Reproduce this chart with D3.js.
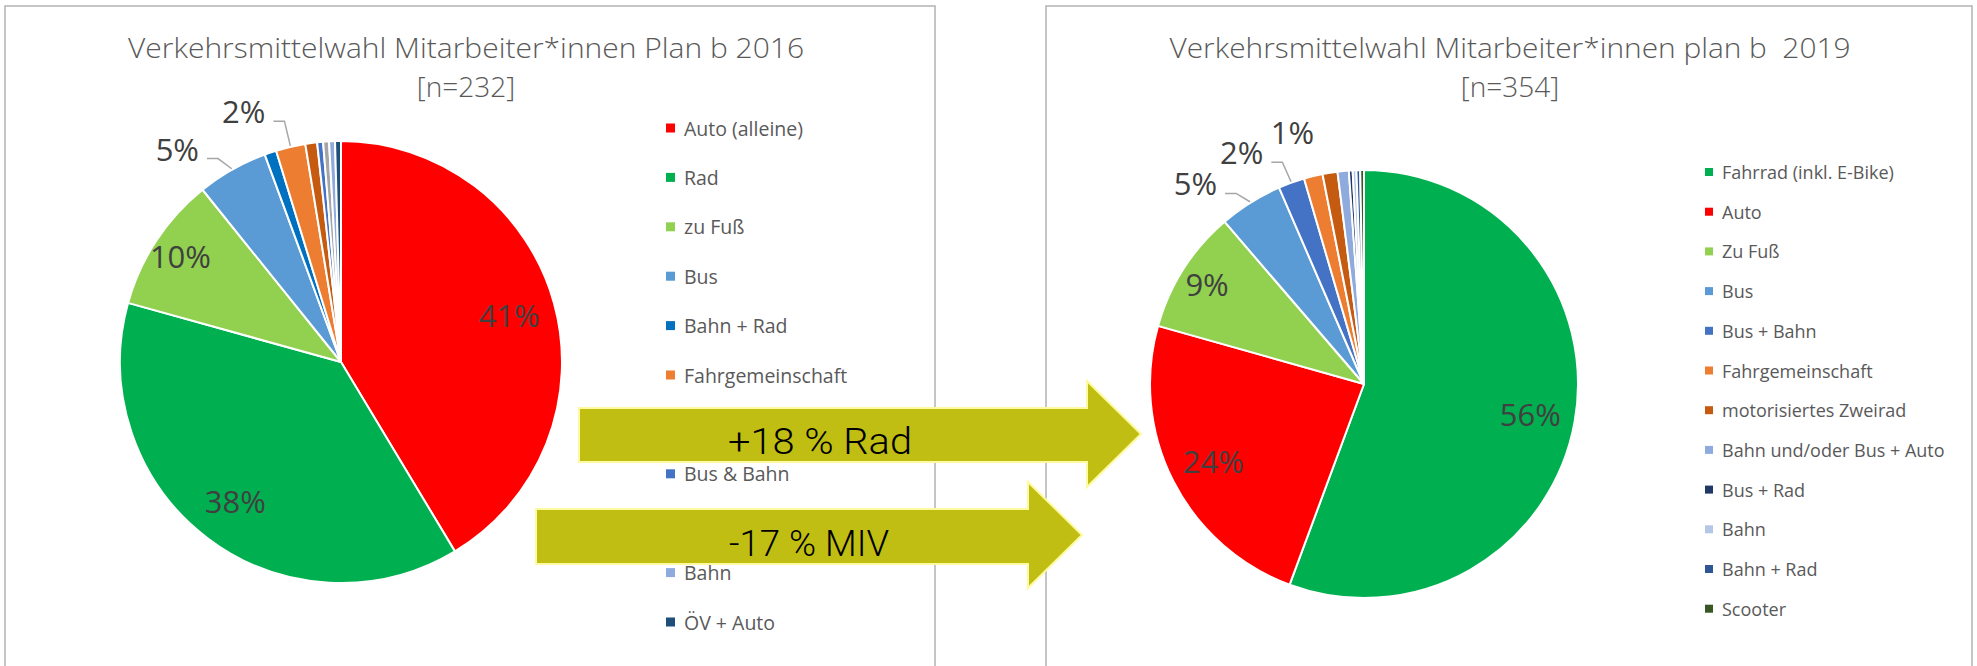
<!DOCTYPE html>
<html>
<head>
<meta charset="utf-8">
<script src="https://cdn.jsdelivr.net/npm/d3@7"></script>
<style>
body{margin:0;background:#fff;overflow:hidden}
text{font-family:"Open Sans",sans-serif}
</style>
</head>
<body>
<div id="chart"></div>
<script>
// 2016 survey
const leftCategories = ['Auto (alleine)','Rad','zu Fuß','Bus','Bahn + Rad','Fahrgemeinschaft','motorisiertes Zweirad','Bus & Bahn','Bus + Rad','Bahn','ÖV + Auto'];
const leftValues = [96,88,23,12,2,5,2,1,1,1,1];
const leftColors = ['#ff0000','#00b050','#92d050','#5b9bd5','#0070c0','#ed7d31','#c55a11','#4472c4','#a5a5a5','#8faadc','#1f4e79'];

// 2019 survey
const rightCategories = ['Fahrrad (inkl. E-Bike)','Auto','Zu Fuß','Bus','Bus + Bahn','Fahrgemeinschaft','motorisiertes Zweirad','Bahn und/oder Bus + Auto','Bus + Rad','Bahn','Bahn + Rad','Scooter'];
const rightValues = [197,84,33,17,7,5,4,3,1,1,1,1];
const rightColors = ['#00b050','#ff0000','#92d050','#5b9bd5','#4472c4','#ed7d31','#c55a11','#8faadc','#203864','#b4c7e7','#2f5597','#375623'];

const leftTitle = ['Verkehrsmittelwahl Mitarbeiter*innen Plan b 2016','[n=232]'];
const rightTitle = ['Verkehrsmittelwahl Mitarbeiter*innen plan b  2019','[n=354]'];
const arrowLabels = ['+18 % Rad','-17 % MIV'];

const W = 1977, H = 666;
const svg = d3.select('#chart').append('svg')
  .attr('width',W).attr('height',H)
  .style('background','#fff');

const rad = Math.PI/180;

function drawPanel(cfg, cats, vals, cols, title){
  const g = svg.append('g');
  // frame
  g.append('rect')
    .attr('x',cfg.box[0]).attr('y',cfg.box[1])
    .attr('width',cfg.box[2]-cfg.box[0]).attr('height',cfg.box[3]-cfg.box[1])
    .attr('fill','#fff').attr('stroke','#b3b3b3').attr('stroke-width',1.5);

  // title
  g.append('text').text(title[0])
    .attr('x',cfg.titleX).attr('y',58)
    .attr('text-anchor','middle')
    .attr('textLength',cfg.titleW).attr('lengthAdjust','spacingAndGlyphs')
    .style('white-space','pre')
    .attr('font-size',27).attr('font-weight',300).attr('fill','#595959');
  g.append('text').text(title[1])
    .attr('x',cfg.titleX).attr('y',97)
    .attr('text-anchor','middle')
    .attr('font-size',28).attr('font-weight',300).attr('fill','#595959');

  const rows = cats.map((c,i)=>({cat:c, value:vals[i], color:cols[i]}));
  const total = d3.sum(vals);
  const arcs = d3.pie().sort(null).value(d=>d.value)(rows);
  const arc = d3.arc().innerRadius(0).outerRadius(cfg.r);

  const pieG = g.append('g').attr('transform',`translate(${cfg.cx},${cfg.cy})`);
  pieG.selectAll('path').data(arcs).enter().append('path')
    .attr('d',arc)
    .attr('fill',d=>d.data.color)
    .attr('stroke','#fff').attr('stroke-width',2).attr('stroke-linejoin','round');

  // labels
  let prevAngle = null;
  arcs.forEach(d=>{
    const share = d.data.value/total;
    const mid = (d.startAngle+d.endAngle)/2;
    const txt = Math.round(share*100)+'%';
    if(share >= 0.08){
      const R = share > 0.15 ? cfg.r*0.79 : cfg.r*0.87;
      pieG.append('text').text(txt)
        .attr('x',R*Math.sin(mid)).attr('y',-R*Math.cos(mid))
        .attr('text-anchor','middle').attr('dominant-baseline','central')
        .attr('font-size',31).attr('fill','#404040');
    } else if(share >= 0.012){
      let a = mid - 8*rad;
      if(prevAngle!==null) a = Math.max(a, prevAngle + 12*rad);
      prevAngle = a;
      const R = cfg.r + 48;
      const lx = R*Math.sin(a), ly = -R*Math.cos(a);
      const t = pieG.append('text').text(txt)
        .attr('x',lx).attr('y',ly)
        .attr('text-anchor','middle').attr('dominant-baseline','central')
        .attr('font-size',31).attr('fill','#404040');
      const hw = t.node().getComputedTextLength()/2;
      const px = (cfg.r+1)*Math.sin(mid), py = -(cfg.r+1)*Math.cos(mid);
      if(Math.hypot(px-lx,py-ly) > 53){
        pieG.append('polyline')
          .attr('points',[[lx+hw+8,ly+10],[lx+hw+19,ly+10],[px,py]].map(p=>p.join(',')).join(' '))
          .attr('fill','none').attr('stroke','#a6a6a6').attr('stroke-width',1.5);
      }
    }
  });

  // legend
  const leg = g.append('g').selectAll('g').data(rows).enter().append('g')
    .attr('transform',(d,i)=>`translate(${cfg.legX},${cfg.legY + i*cfg.legStep})`);
  leg.append('rect')
    .attr('x',0).attr('y',-cfg.mark/2)
    .attr('width',cfg.mark).attr('height',cfg.mark)
    .attr('fill',d=>d.color);
  leg.append('text').text(d=>d.cat)
    .attr('x',cfg.mark+9).attr('y',0)
    .attr('dominant-baseline','central')
    .attr('font-size',cfg.legFont).attr('fill','#595959');
}

drawPanel({box:[5,6,935,700], titleX:466, titleW:676, cx:341, cy:362, r:221,
  legX:666, legY:128, legStep:49.4, legFont:19.5, mark:9},
  leftCategories, leftValues, leftColors, leftTitle);

drawPanel({box:[1046,6,1972,700], titleX:1510, titleW:681, cx:1364, cy:384, r:214,
  legX:1705, legY:172, legStep:39.7, legFont:18, mark:8},
  rightCategories, rightValues, rightColors, rightTitle);

// comparison arrows
const arrows = [
  {x0:579, x1:1087, tip:1141, y0:408, y1:462, h0:381, h1:487, tx:820, ty:454, tw:184},
  {x0:536, x1:1028, tip:1082, y0:509, y1:564, h0:482, h1:588, tx:809, ty:556, tw:160}
];
const ag = svg.append('g');
arrows.forEach((a,i)=>{
  const mid = (a.h0+a.h1)/2;
  ag.append('polygon')
    .attr('points',[[a.x0,a.y0],[a.x1,a.y0],[a.x1,a.h0],[a.tip,mid],[a.x1,a.h1],[a.x1,a.y1],[a.x0,a.y1]].map(p=>p.join(',')).join(' '))
    .attr('fill','#c0be12').attr('stroke','#fdfaa0').attr('stroke-width',2);
  ag.append('text').text(arrowLabels[i])
    .attr('x',a.tx).attr('y',a.ty)
    .attr('text-anchor','middle')
    .attr('textLength',a.tw).attr('lengthAdjust','spacingAndGlyphs')
    .style('font-family','Roboto, sans-serif')
    .attr('font-size',37).attr('font-weight',300).attr('fill','#000');
});
</script>
</body>
</html>
